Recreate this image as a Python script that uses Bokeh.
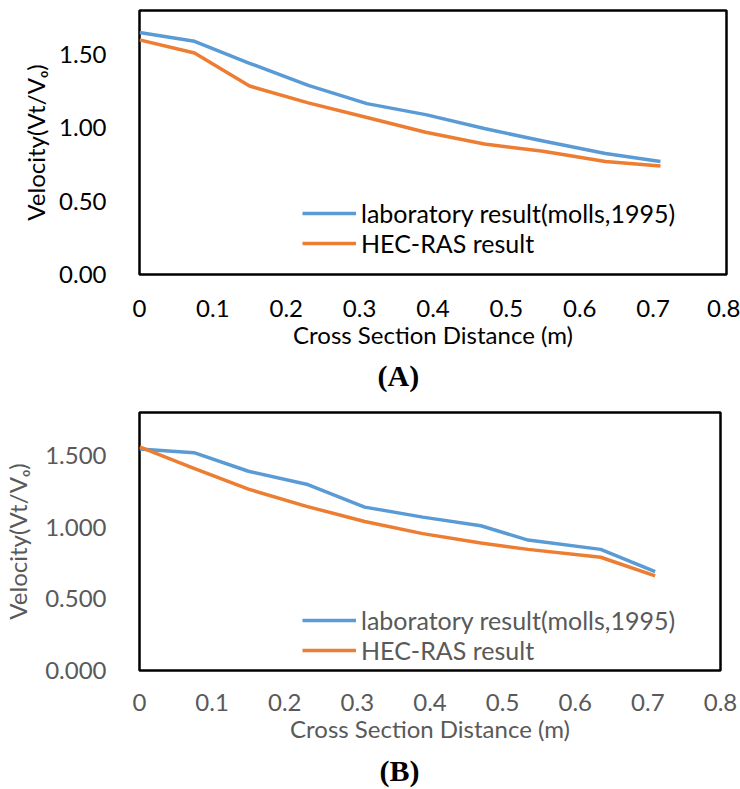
from bokeh.plotting import figure
from bokeh.models import Range1d, FixedTicker, Legend, LegendItem, Title, PrintfTickFormatter
from bokeh.layouts import column
from bokeh.embed import file_html
from bokeh.resources import INLINE

# Panel A data
x_A = [0, 0.075, 0.15, 0.23, 0.31, 0.39, 0.47, 0.55, 0.635, 0.71]
lab_A = [1.65, 1.59, 1.44, 1.29, 1.165, 1.09, 0.995, 0.91, 0.825, 0.77]
hec_A = [1.60, 1.51, 1.285, 1.17, 1.07, 0.97, 0.89, 0.84, 0.77, 0.74]

# Panel B data
x_B = [0, 0.075, 0.15, 0.23, 0.31, 0.39, 0.47, 0.535, 0.635, 0.71]
lab_B = [1.545, 1.52, 1.39, 1.30, 1.14, 1.07, 1.01, 0.91, 0.845, 0.69]
hec_B = [1.56, 1.41, 1.265, 1.145, 1.04, 0.955, 0.89, 0.845, 0.79, 0.66]

x_ticks = [0, 0.1, 0.2, 0.3, 0.4, 0.5, 0.6, 0.7, 0.8]
y_ticks = [0, 0.5, 1.0, 1.5]
series_names = ["laboratory result(molls,1995)", "HEC-RAS result"]
x_title = "Cross Section Distance (m)"
y_title = "Velocity(Vt/V\u2092)"

BLUE = "#5B9BD5"
ORANGE = "#ED7D31"
FONT = "Lato"


def make_panel(xv, lab, hec, tag, text_color, yfmt, frame_left, frame_right,
               border_top, frame_h, border_bottom, legend_loc, frame_w,
               ylab_standoff, tag_offset, tag_standoff, xlab_standoff):
    p = figure(width=740, frame_width=frame_w, frame_height=frame_h,
               x_range=Range1d(0, 0.8), y_range=Range1d(0, 1.8),
               output_backend="svg", toolbar_location=None,
               min_border_left=frame_left, min_border_right=frame_right,
               min_border_top=border_top, min_border_bottom=border_bottom)
    p.outline_line_color = "black"
    p.outline_line_width = 2.5
    p.grid.visible = False
    p.background_fill_color = "white"
    p.border_fill_color = "white"

    r1 = p.line(xv, lab, line_color=BLUE, line_width=3.5, line_join="round")
    r2 = p.line(xv, hec, line_color=ORANGE, line_width=3.5, line_join="round")

    for ax in (p.xaxis[0], p.yaxis[0]):
        ax.axis_line_color = None
        ax.major_tick_line_color = None
        ax.minor_tick_line_color = None
        ax.major_label_text_font = FONT
        ax.major_label_text_font_size = "24px"
        ax.major_label_text_color = text_color
        ax.axis_label_text_font = FONT
        ax.axis_label_text_font_size = "24px"
        ax.axis_label_text_font_style = "normal"
        ax.axis_label_text_color = text_color

    p.xaxis.ticker = FixedTicker(ticks=x_ticks)
    p.xaxis.major_label_overrides = {0: "0"}
    p.xaxis.axis_label = x_title
    p.xaxis.major_label_standoff = xlab_standoff
    p.xaxis.axis_label_standoff = 0

    p.yaxis.ticker = FixedTicker(ticks=y_ticks)
    p.yaxis.formatter = PrintfTickFormatter(format=yfmt)
    p.yaxis.axis_label = y_title
    p.yaxis.major_label_standoff = 27
    p.yaxis.axis_label_standoff = ylab_standoff

    legend = Legend(items=[LegendItem(label=series_names[0], renderers=[r1]),
                           LegendItem(label=series_names[1], renderers=[r2])],
                    location=legend_loc, orientation="vertical",
                    label_text_font=FONT, label_text_font_size="25px",
                    label_text_color=text_color,
                    glyph_width=54, glyph_height=30, label_height=30,
                    label_standoff=5, spacing=0, padding=0, margin=0,
                    border_line_color=None, background_fill_alpha=0)
    p.add_layout(legend, "center")

    t = Title(text=tag, align="left", text_font="Liberation Serif",
              text_font_style="bold", text_font_size="30px", text_color="black",
              offset=tag_offset, standoff=tag_standoff)
    p.add_layout(t, "below")
    return p


pA = make_panel(x_A, lab_A, hec_A, "(A)", "black", "%.2f", 135, 18, 10, 264, 122,
                (163, 16), 587, 6, 238, 11, 19)
pB = make_panel(x_B, lab_B, hec_B, "(B)", "#595959", "%.3f", 130, 29, 15, 258, 120,
                (163, 5), 581, 10, 240, 12, 17)

layout = column(pA, pB, spacing=0)
open("out.html", "w").write(file_html(layout, INLINE))
